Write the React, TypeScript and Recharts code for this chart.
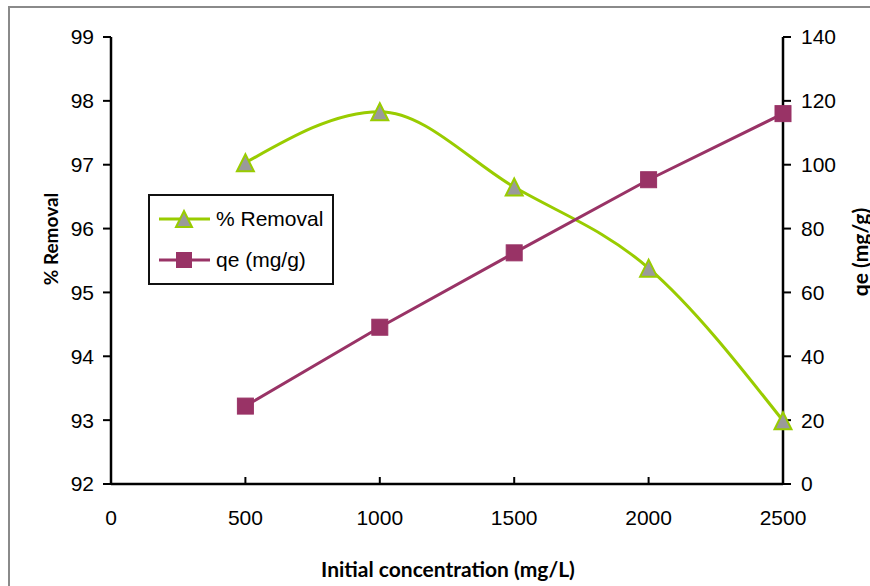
import {
  ComposedChart,
  Line,
  XAxis,
  YAxis,
  Legend,
  Label,
} from "recharts";

// Initial concentration (mg/L)
const concentrations = [500, 1000, 1500, 2000, 2500];
// % Removal (left axis)
const removal = [97.03, 97.83, 96.65, 95.38, 92.99];
// qe in mg/g (right axis)
const qe = [24.4, 49.1, 72.4, 95.3, 116.0];

const xTicks = [0, 500, 1000, 1500, 2000, 2500];
const removalTicks = [92, 93, 94, 95, 96, 97, 98, 99];
const qeTicks = [0, 20, 40, 60, 80, 100, 120, 140];

const GREEN = "#99cc00";
const PURPLE = "#993366";
const TICK_FONT = "'Liberation Sans', Arial, sans-serif";
const TITLE_FONT = "Lato, 'Open Sans', sans-serif";

const data = concentrations.map((c, i) => ({
  conc: c,
  removal: removal[i],
  qe: qe[i],
}));

function Triangle({ cx, cy, size = 17 }: { cx?: number; cy?: number; size?: number }) {
  if (cx == null || cy == null) return null;
  const h = size;
  const w = size;
  const pts = `${cx},${cy - h / 2} ${cx + w / 2},${cy + h / 2} ${cx - w / 2},${cy + h / 2}`;
  return <polygon points={pts} fill="#9a9a9a" stroke={GREEN} strokeWidth={2} />;
}

function Square({ cx, cy, size = 16 }: { cx?: number; cy?: number; size?: number }) {
  if (cx == null || cy == null) return null;
  return (
    <rect x={cx - size / 2} y={cy - size / 2} width={size} height={size} fill={PURPLE} stroke={PURPLE} strokeWidth={1} />
  );
}

// x ticks point up into the plot, labels sit below the axis
function XTick(props: any) {
  const { x, y, payload } = props;
  return (
    <g>
      <line x1={x} y1={y} x2={x} y2={y - 7} stroke="#000" strokeWidth={2} />
      <text x={x} y={y + 41} textAnchor="middle" fontSize={21} fontFamily={TICK_FONT} fill="#000">
        {payload.value}
      </text>
    </g>
  );
}

function LegendBox({ payload }: any) {
  const items = (payload || []).filter((p: any) => p.type !== "none");
  return (
    <div
      style={{
        width: 182,
        height: 85,
        border: "2px solid #111",
        background: "#fff",
        boxSizing: "content-box",
        paddingTop: 2,
      }}
    >
      {items.map((p: any) => {
        const isRemoval = p.dataKey === "removal";
        return (
          <div key={p.dataKey} style={{ display: "flex", alignItems: "center", height: 41 }}>
            <svg width={64} height={24} style={{ marginLeft: 7 }}>
              <line x1={2} y1={12} x2={53} y2={12} stroke={isRemoval ? GREEN : PURPLE} strokeWidth={3} />
              {isRemoval ? <Triangle cx={27} cy={12} size={16} /> : <Square cx={27} cy={12} size={15} />}
            </svg>
            <span style={{ fontFamily: TICK_FONT, fontSize: 21, color: "#000", marginLeft: -5 }}>{p.value}</span>
          </div>
        );
      })}
    </div>
  );
}

export default function App() {
  return (
    <div style={{ position: "fixed", left: 0, top: 0, width: 870, height: 586, background: "#fff", overflow: "hidden" }}>
      <div
        style={{
          position: "absolute",
          left: 8,
          top: 6,
          width: 900,
          height: 620,
          borderLeft: "2px solid #8a8a8a",
          borderTop: "2px solid #8a8a8a",
        }}
      />
      <ComposedChart
        width={870}
        height={586}
        data={data}
        margin={{ top: 37, right: 0, bottom: 0, left: 0 }}
        style={{ position: "absolute", left: 0, top: 0 }}
      >
        <XAxis
          dataKey="conc"
          type="number"
          domain={[0, 2500]}
          ticks={xTicks}
          height={102}
          axisLine={{ stroke: "#000", strokeWidth: 2.5 }}
          tickLine={false}
          tickSize={0}
          tickMargin={0}
          tick={<XTick />}
        >
          <Label
            content={() => (
              <text x={448} y={577} textAnchor="middle" fontFamily={TITLE_FONT} fontWeight={700} fontSize={21} fill="#000">
                Initial concentration (mg/L)
              </text>
            )}
          />
        </XAxis>
        <YAxis
          yAxisId="left"
          orientation="left"
          domain={[92, 99]}
          ticks={removalTicks}
          width={111}
          axisLine={{ stroke: "#000", strokeWidth: 2.5 }}
          tickLine={{ stroke: "#000", strokeWidth: 2 }}
          tickSize={8}
          tickMargin={9}
          tick={{ fontSize: 21, fill: "#000", fontFamily: TICK_FONT }}
        >
          <Label
            content={() => (
              <text
                x={50}
                y={239}
                transform="rotate(-90 50 239)"
                textAnchor="middle"
                dominantBaseline="central"
                fontFamily={TITLE_FONT}
                fontWeight={700}
                fontSize={19}
                fill="#000"
              >
                % Removal
              </text>
            )}
          />
        </YAxis>
        <YAxis
          yAxisId="right"
          orientation="right"
          domain={[0, 140]}
          ticks={qeTicks}
          width={87}
          axisLine={{ stroke: "#000", strokeWidth: 2.5 }}
          tickLine={{ stroke: "#000", strokeWidth: 2 }}
          tickSize={8}
          tickMargin={10}
          tick={{ fontSize: 21, fill: "#000", fontFamily: TICK_FONT }}
        >
          <Label
            content={() => (
              <text
                x={859}
                y={252}
                transform="rotate(-90 859 252)"
                textAnchor="middle"
                dominantBaseline="central"
                fontFamily={TITLE_FONT}
                fontWeight={700}
                fontSize={21}
                fill="#000"
              >
                qe (mg/g)
              </text>
            )}
          />
        </YAxis>
        <Legend
          layout="vertical"
          align="center"
          verticalAlign="middle"
          content={<LegendBox />}
          wrapperStyle={{ position: "absolute", left: 148, top: 194, width: 186 }}
        />
        <Line
          yAxisId="left"
          type="monotone"
          dataKey="removal"
          name="% Removal"
          stroke={GREEN}
          strokeWidth={3}
          dot={<Triangle />}
          activeDot={false}
          isAnimationActive={false}
        />
        <Line
          yAxisId="right"
          type="linear"
          dataKey="qe"
          name="qe (mg/g)"
          stroke={PURPLE}
          strokeWidth={3}
          dot={<Square />}
          activeDot={false}
          isAnimationActive={false}
        />
      </ComposedChart>
    </div>
  );
}
